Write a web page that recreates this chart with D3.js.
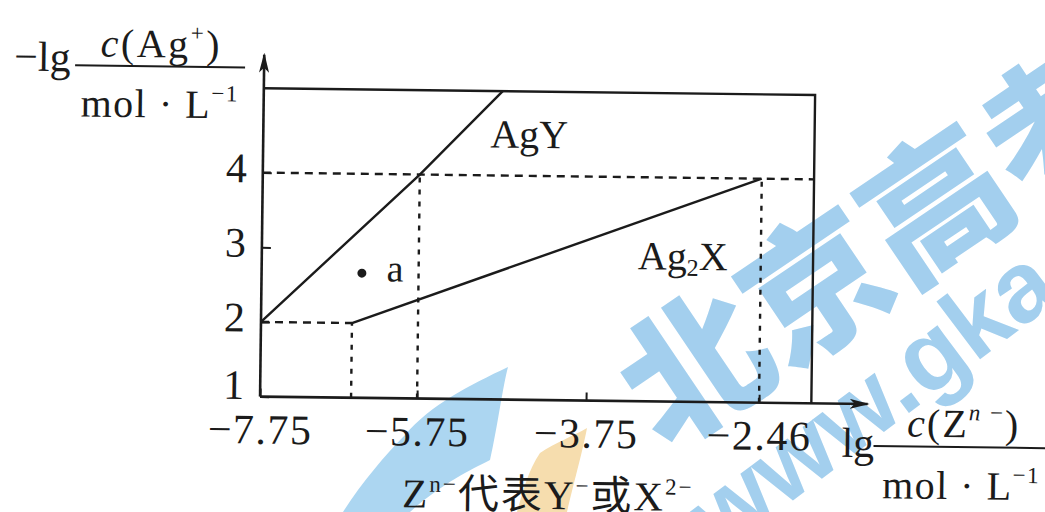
<!DOCTYPE html>
<html>
<head>
<meta charset="utf-8">
<script src="https://cdn.jsdelivr.net/npm/d3@7"></script>
<style>
  body { margin: 0; background: #fff; }
  svg { display: block; }
</style>
</head>
<body>
<div id="chart"></div>
<script>
// values (lg c(Z) on x, -lg c(Ag+) on y)
var xTicks = [-7.75, -5.75, -3.75, -2.46];
var xTickLabels = ['\u22127.75', '\u22125.75', '\u22123.75', '\u22122.46'];
var yTicks = [1, 2, 3, 4];
var yTickLabels = ['1', '2', '3', '4'];
// the figure is a sketch, x is not evenly spaced -> piecewise scale on these knots
var xKnots = [-7.75, -6.46, -5.75, -3.75, -2.46];

var agY = [[-7.75, 2], [-5.75, 4], [-4.78, 5.13]];
var ag2X = [[-6.46, 2], [-2.46, 4]];
var pointA = [[-6.36, 2.67]];

// dashed guides: [x1, y1, x2, y2]
var guidesH = [[-7.75, 4, -2.07, 4], [-7.75, 2, -6.46, 2]];
var guidesV = [[-6.46, 1, -6.46, 2], [-5.75, 1, -5.75, 4], [-2.46, 1, -2.46, 4]];

// frame edges
var xMin = -7.75, xRight = -2.07, xArrow = -1.65;
var yMin = 1, yTop = 5.13, yArrow = 5.58;

var W = 1045, H = 512;
var ink = '#1b1b1b';
var serif = '"Liberation Serif", "Times New Roman", "Noto Sans CJK SC", serif';

var svg = d3.select('#chart').append('svg')
    .attr('width', W)
    .attr('height', H);

var defs = svg.append('defs');
defs.append('marker')
    .attr('id', 'arrow')
    .attr('viewBox', '0 0 20 10')
    .attr('refX', 18).attr('refY', 5)
    .attr('markerWidth', 20).attr('markerHeight', 10)
    .attr('markerUnits', 'userSpaceOnUse')
    .attr('orient', 'auto')
  .append('path')
    .attr('d', 'M0,0 L20,5 L0,10 L5,5 Z')
    .attr('fill', ink);

// --- watermark, sits under the drawing ---
var wm = svg.append('g').attr('class', 'watermark');
wm.append('path')
    .attr('d', 'M508,367 C503,385 497,430 490,460 C470,470 440,485 410,512 L343,512 C360,485 385,455 405,435 C430,405 470,385 508,367 Z')
    .attr('fill', '#acd6f1');
wm.append('path')
    .attr('d', 'M587,428 C583,450 572,490 567,512 L517,512 C522,495 528,470 540,453 C555,443 575,435 587,428 Z')
    .attr('fill', '#f6ddae');
wm.append('g').attr('transform', 'translate(694,366) rotate(-34)')
  .append('text')
    .attr('x', -72).attr('y', 55)
    .attr('font-family', '"Noto Sans CJK SC", sans-serif')
    .attr('font-weight', 900)
    .attr('font-size', 145)
    .attr('fill', '#a3cfee')
    .text('北京高考');
wm.append('g').attr('transform', 'translate(937,358) rotate(-37)')
  .append('text')
    .attr('x', -292).attr('y', 27)
    .attr('font-family', '"Liberation Sans", Arial, sans-serif')
    .attr('font-weight', 700)
    .attr('font-size', 100)
    .attr('fill', '#a3cfee')
    .text('www.gka');

// --- the chart, the scan is turned a little clockwise ---
var g = svg.append('g').attr('transform', 'rotate(0.7,540,240)');

var x = d3.scaleLinear().domain(xKnots).range([262, 353, 419, 588, 761]);
var y = d3.scaleLinear().domain([1, 4]).range([400, 176]);

var line = d3.line().x(function(d) { return x(d[0]); }).y(function(d) { return y(d[1]); });

// ticks + labels through d3 axes
var xAxis = g.append('g')
    .attr('transform', 'translate(0,' + y(yMin) + ')')
    .call(d3.axisBottom(x).tickValues(xTicks).tickSize(-8).tickPadding(24)
        .tickFormat(function(d, i) { return xTickLabels[i]; }));
var yAxis = g.append('g')
    .attr('transform', 'translate(' + x(xMin) + ',0)')
    .call(d3.axisLeft(y).tickValues(yTicks).tickSize(-9).tickPadding(16)
        .tickFormat(function(d, i) { return yTickLabels[i]; }));

[xAxis, yAxis].forEach(function(a) {
    a.select('.domain').remove();
    a.selectAll('.tick line').attr('stroke', ink).attr('stroke-width', 2);
    a.selectAll('.tick text')
        .attr('fill', ink)
        .attr('font-family', serif)
        .attr('font-size', 42);
});
xAxis.selectAll('.tick text').attr('dy', '0.55em').attr('letter-spacing', 1.5);
yAxis.selectAll('.tick text').attr('dy', function(d) { return d === 1 ? '0.05em' : '0.22em'; });

// guides
g.selectAll('.guide-h').data(guidesH).enter().append('line')
    .attr('class', 'guide-h')
    .attr('x1', function(d) { return x(d[0]); }).attr('y1', function(d) { return y(d[1]); })
    .attr('x2', function(d) { return x(d[2]); }).attr('y2', function(d) { return y(d[3]); })
    .attr('stroke', ink).attr('stroke-width', 2.4)
    .attr('stroke-dasharray', '8,6');
g.selectAll('.guide-v').data(guidesV).enter().append('line')
    .attr('class', 'guide-v')
    .attr('x1', function(d) { return x(d[0]); }).attr('y1', function(d) { return y(d[1]); })
    .attr('x2', function(d) { return x(d[2]); }).attr('y2', function(d) { return y(d[3]); })
    .attr('stroke', ink).attr('stroke-width', 2.4)
    .attr('stroke-dasharray', '5,7');

// frame (top + right) and the two axes with arrows
g.append('path')
    .attr('d', line([[xMin, yTop], [xRight, yTop], [xRight, yMin]]))
    .attr('fill', 'none').attr('stroke', ink).attr('stroke-width', 2.4);
g.append('path')
    .attr('d', line([[xMin, yMin], [xMin, yArrow]]))
    .attr('fill', 'none').attr('stroke', ink).attr('stroke-width', 2.6)
    .attr('marker-end', 'url(#arrow)');
g.append('path')
    .attr('d', line([[xMin, yMin], [xArrow, yMin]]))
    .attr('fill', 'none').attr('stroke', ink).attr('stroke-width', 2.6)
    .attr('marker-end', 'url(#arrow)');

// the two curves
[agY, ag2X].forEach(function(s) {
    g.append('path')
        .attr('d', line(s))
        .attr('fill', 'none').attr('stroke', ink).attr('stroke-width', 2.4);
});

g.selectAll('.pt').data(pointA).enter().append('circle')
    .attr('class', 'pt')
    .attr('cx', function(d) { return x(d[0]); })
    .attr('cy', function(d) { return y(d[1]); })
    .attr('r', 4.5).attr('fill', ink);

function label(px, py, size, anchor) {
    return g.append('text')
        .attr('x', px).attr('y', py)
        .attr('font-family', serif)
        .attr('font-size', size)
        .attr('text-anchor', anchor || 'middle')
        .attr('fill', ink);
}

label(387, 283, 38, 'start').text('a');
label(528, 148, 40).text('AgY');
var l2 = label(683, 268, 40);
l2.append('tspan').text('Ag');
l2.append('tspan').attr('font-size', 24).attr('dy', 6).text('2');
l2.append('tspan').attr('dy', -6).text('X');

// y axis title
label(12, 77, 42, 'start').text('\u2212lg');
g.append('line').attr('x1', 73).attr('x2', 243).attr('y1', 71).attr('y2', 71)
    .attr('stroke', ink).attr('stroke-width', 2);
var yt = label(159, 62, 40).attr('letter-spacing', 2.5);
yt.append('tspan').attr('font-style', 'italic').text('c');
yt.append('tspan').text('(Ag');
yt.append('tspan').attr('font-size', 23).attr('dy', -17).text('+');
yt.append('tspan').attr('dy', 17).text(')');
var yd = label(158, 122, 40).attr('letter-spacing', 1.5);
yd.append('tspan').text('mol \u00b7 L');
yd.append('tspan').attr('font-size', 23).attr('dy', -17).text('\u22121');

// x axis title
label(844, 453, 42, 'start').text('lg');
g.append('line').attr('x1', 876).attr('x2', 1052).attr('y1', 442).attr('y2', 442)
    .attr('stroke', ink).attr('stroke-width', 2);
var xt = label(966, 432, 40).attr('letter-spacing', 2);
xt.append('tspan').attr('font-style', 'italic').text('c');
xt.append('tspan').text('(Z');
xt.append('tspan').attr('font-size', 23).attr('dy', -17).attr('font-style', 'italic').text('n');
xt.append('tspan').attr('font-size', 23).text(' \u2212');
xt.append('tspan').attr('dy', 17).text(')');
var xd = label(964, 494, 40).attr('letter-spacing', 1.5);
xd.append('tspan').text('mol \u00b7 L');
xd.append('tspan').attr('font-size', 23).attr('dy', -17).text('\u22121');

// note under the axis
var note = label(551, 509, 41).attr('letter-spacing', 2);
note.append('tspan').text('Z');
note.append('tspan').attr('font-size', 23).attr('dy', -16).text('n\u2212');
note.append('tspan').attr('dy', 16).text('代表Y');
note.append('tspan').attr('font-size', 23).attr('dy', -16).text('\u2212');
note.append('tspan').attr('dy', 16).text('或X');
note.append('tspan').attr('font-size', 23).attr('dy', -16).text('2\u2212');
</script>
</body>
</html>
